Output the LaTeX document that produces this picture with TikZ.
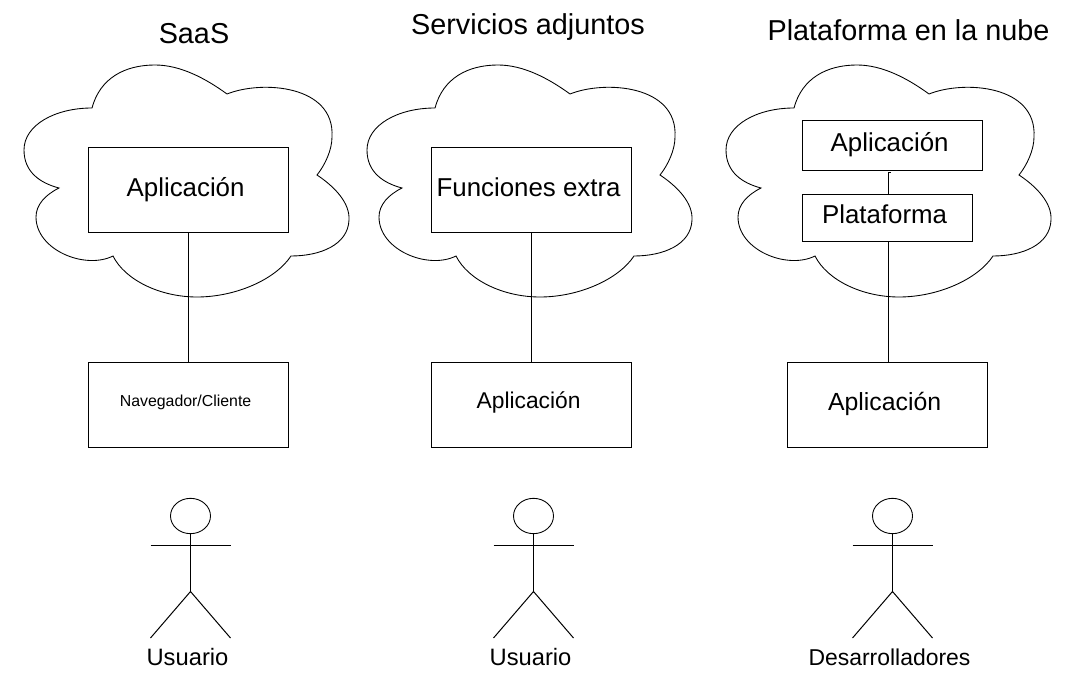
\documentclass[tikz,border=0pt]{standalone}
\usepackage{fontspec}
\usetikzlibrary{shapes.geometric}
\setmainfont{Liberation Sans}

\tikzset{
  box/.style={draw,line width=0.75pt,inner sep=0pt,anchor=north west,execute at begin node={\hspace*{-4pt}}},
  title/.style={font=\fontsize{21.6}{24}\selectfont,inner sep=0pt},
  cloudline/.style={line width=0.65pt},
  figure/.style={line width=0.75pt},
  actor/.style={font=\fontsize{17.8}{20}\selectfont,inner sep=0pt},
  link/.style={line width=0.75pt}
}
\newcommand{\cloudpath}[1]{
  \draw[cloudline,shift={(#1,0)}] (92,108)
    .. controls (100,78) and (125,65) .. (155,65)
    .. controls (180,65) and (205,78) .. (227,94)
    .. controls (262,80) and (335,85) .. (332,137)
    .. controls (332,150) and (325,165) .. (317,175)
    .. controls (335,187) and (350,203) .. (349,220)
    .. controls (348,245) and (320,256) .. (291,256)
    .. controls (275,280) and (235,297) .. (197,297)
    .. controls (160,297) and (125,280) .. (113,256)
    .. controls (85,270) and (36,250) .. (36,217)
    .. controls (36,205) and (45,195) .. (59,188)
    .. controls (40,183) and (24,172) .. (24,150)
    .. controls (24,125) and (55,108) .. (92,108) -- cycle;
}
\newcommand{\actorfig}[2]{
  \node[draw,ellipse,line width=0.65pt,minimum width=30pt,minimum height=26.5pt,inner sep=0pt] (#2head) at (#1,516) {};
  \coordinate (#2neck) at (#1,591.5);
  \coordinate (#2armL) at (#1-40,545);
  \coordinate (#2armR) at (#1+40,545);
  \coordinate (#2footL) at (#1-40,638);
  \coordinate (#2footR) at (#1+40,638);
  \draw[figure] (#2head) -- (#2neck);
  \draw[figure] (#2armL) -- (#2armR);
  \draw[figure] (#2footL) -- (#2neck) -- (#2footR);
}

\begin{document}
\begin{tikzpicture}[x=0.75pt,y=-0.75pt]
    \useasboundingbox (0,0) rectangle (1084,673);

    % clouds
    \cloudpath{0}
    \cloudpath{343}
    \cloudpath{702}

    % titles
    \node[title] (titleA) at (194,34) {SaaS};
    \node[title] (titleB) at (528,27) {Servicios adjuntos};
    \node[title] (titleC) at (908.5,30) {Plataforma en la nube};

    % SaaS column
    \node[box,minimum width=150pt,minimum height=63.75pt,font=\fontsize{19.4}{22}\selectfont,text depth=5.6pt] (appA) at (87.75,147.5) {Aplicación};
    \node[box,minimum width=150pt,minimum height=63.75pt,font=\fontsize{11.9}{14}\selectfont,text depth=5.5pt] (clientA) at (87.75,361.75) {Navegador/Cliente};
    \draw[link] (appA) -- (clientA);

    % adjuntos column
    \node[box,minimum width=150pt,minimum height=63.75pt,font=\fontsize{19.4}{22}\selectfont,text depth=4.5pt] (funcB) at (430.75,147.5) {Funciones extra};
    \node[box,minimum width=150pt,minimum height=63.75pt,font=\fontsize{17.1}{20}\selectfont,text depth=6.6pt] (appB) at (430.75,361.75) {Aplicación};
    \draw[link] (funcB) -- (appB);

    % plataforma column
    \node[box,minimum width=135pt,minimum height=37.5pt,font=\fontsize{19.4}{22}\selectfont,text depth=5.6pt] (appC) at (801.75,120) {Aplicación};
    \node[box,minimum width=127.5pt,minimum height=35.25pt,font=\fontsize{19.4}{22}\selectfont,text depth=6pt] (platC) at (801.75,194) {Plataforma};
    \node[box,minimum width=150pt,minimum height=63.75pt,font=\fontsize{18.6}{21}\selectfont,text depth=5.4pt] (devC) at (786.75,361.75) {Aplicación};
    \coordinate (nubC) at (888,173);
    \coordinate (nubEnd) at (891,173);
    \draw[link] (platC.north -| nubC) -- (nubC) -- (nubEnd);
    \draw[link] (platC.south -| nubC) -- (devC.north -| nubC);

    % stick figures
    \actorfig{190.5}{figA}
    \actorfig{533.5}{figB}
    \actorfig{892.5}{figC}
    \node[actor] (labelA) at (187.5,657) {Usuario};
    \node[actor] (labelB) at (530.5,657) {Usuario};
    \node[actor,font=\fontsize{17.2}{20}\selectfont] (labelC) at (889.5,657) {Desarrolladores};
\end{tikzpicture}
\end{document}
